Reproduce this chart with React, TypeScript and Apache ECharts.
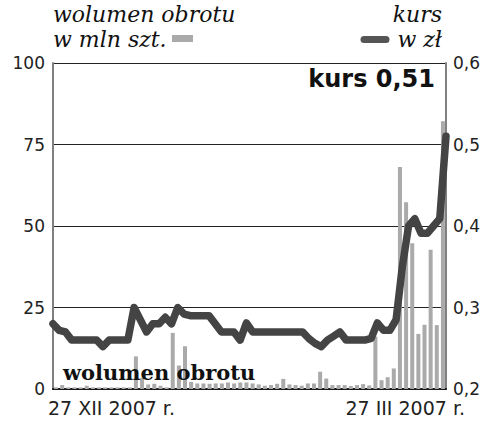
import React, { useEffect, useRef } from "react";
import * as echarts from "echarts";

const days: string[] = Array.from({ length: 64 }, (_, i) => `d${i + 1}`);

const volume: number[] = [
  0.5, 1.2, 0.5, 0.5, 0.5, 1.0, 0.5, 0.5, 0.5, 0.5, 0.5, 0.5, 0.5,
  10, 3.4, 1.4, 1.6, 1.0, 0.5, 17.2, 7.2, 13.1,
  2.2, 1.7, 1.7, 1.6, 1.7, 1.7, 2.0, 1.7, 2.0, 2.0, 1.7, 1.4,
  1.0, 1.2, 1.6, 3.1, 1.4, 1.2, 1.0, 1.7, 1.7,
  5.3, 3.2, 1.2, 1.2, 1.2, 0.9, 1.2, 1.5, 1.1,
  16.1, 2.7, 3.6, 6.3, 68.1, 57.3, 44.7, 16.9, 19.7, 42.7, 19.6, 82.1,
];

const price: number[] = [
  0.28, 0.272, 0.27, 0.26, 0.26, 0.26, 0.26, 0.26, 0.252, 0.26, 0.26, 0.26, 0.26,
  0.3, 0.285, 0.27, 0.28, 0.28, 0.288, 0.28, 0.3, 0.292,
  0.29, 0.29, 0.29, 0.29, 0.28, 0.27, 0.27, 0.27, 0.26, 0.281,
  0.27, 0.27, 0.27, 0.27, 0.27, 0.27, 0.27, 0.27, 0.27,
  0.262, 0.256, 0.252, 0.26, 0.265, 0.27, 0.26, 0.26, 0.26, 0.26, 0.262,
  0.281, 0.272, 0.272, 0.285, 0.35, 0.4, 0.409, 0.391, 0.391, 0.4, 0.409, 0.51,
];

const dateLabels: string[] = ["27 XII 2007 r.", "27 III 2007 r."];
const volumeTicks = { min: 0, max: 100, interval: 25 };
const priceTicks = { min: 0.2, max: 0.6, interval: 0.1 };

const legendVolume = ["wolumen obrotu", "w mln szt."];
const legendPrice = ["kurs", "w zł"];
const lastPriceLabel = "kurs 0,51";
const volumeCaption = "wolumen obrotu";

const sans = "'DejaVu Sans', sans-serif";
const serif = "'DejaVu Serif', serif";

export default function App() {
  const ref = useRef<HTMLDivElement>(null);
  useEffect(() => {
    if (!ref.current) return;
    const chart = echarts.init(ref.current, undefined, { renderer: "svg" });
    chart.setOption({
      animation: false,
      backgroundColor: "#ffffff",
      grid: { left: 53, right: 54, top: 63, bottom: 45 },
      xAxis: [
        {
          type: "category",
          data: days,
          boundaryGap: true,
          axisLine: { show: true, lineStyle: { color: "#1a1a1a", width: 2 } },
          axisTick: { show: false },
          axisLabel: { show: false },
          splitLine: { show: false },
        },
        {
          type: "category",
          data: days,
          boundaryGap: false,
          show: false,
        },
      ],
      yAxis: [
        {
          type: "value",
          position: "left",
          min: volumeTicks.min,
          max: volumeTicks.max,
          interval: volumeTicks.interval,
          axisLine: { show: true, lineStyle: { color: "#808080", width: 2 } },
          axisTick: { show: false },
          axisLabel: {
            margin: 8,
            color: "#222",
            fontFamily: sans,
            fontSize: 17,
          },
          splitLine: { show: true, lineStyle: { color: "#222", width: 1.2 } },
        },
        {
          type: "value",
          position: "right",
          min: priceTicks.min,
          max: priceTicks.max,
          interval: priceTicks.interval,
          axisLine: { show: true, lineStyle: { color: "#808080", width: 2 } },
          axisTick: { show: false },
          axisLabel: {
            margin: 7,
            color: "#222",
            fontFamily: sans,
            fontSize: 17,
            formatter: (v: number) => v.toFixed(1).replace(".", ","),
          },
          splitLine: { show: false },
        },
      ],
      series: [
        {
          type: "bar",
          xAxisIndex: 0,
          yAxisIndex: 0,
          data: volume,
          barWidth: 4,
          itemStyle: { color: "#aaaaaa" },
          z: 2,
        },
        {
          type: "line",
          xAxisIndex: 1,
          yAxisIndex: 1,
          data: price,
          symbol: "none",
          lineStyle: { color: "#444444", width: 7.5, join: "round", cap: "round" },
          z: 3,
        },
      ],
      graphic: [
        {
          type: "text",
          left: 53,
          top: 3,
          z: 100,
          style: { text: legendVolume[0], font: `italic 22px ${serif}`, fill: "#111" },
        },
        {
          type: "text",
          left: 53,
          top: 28,
          z: 100,
          style: { text: legendVolume[1], font: `italic 22px ${serif}`, fill: "#111" },
        },
        {
          type: "rect",
          shape: { x: 172, y: 35, width: 21, height: 7 },
          style: { fill: "#aaaaaa" },
          z: 100,
        },
        {
          type: "text",
          right: 58,
          top: 3,
          z: 100,
          style: { text: legendPrice[0], font: `italic 22px ${serif}`, fill: "#111" },
        },
        {
          type: "text",
          right: 58,
          top: 28,
          z: 100,
          style: { text: legendPrice[1], font: `italic 22px ${serif}`, fill: "#111" },
        },
        {
          type: "line",
          shape: { x1: 364, y1: 39.5, x2: 386, y2: 39.5 },
          style: { stroke: "#555555", lineWidth: 7, lineCap: "round" },
          z: 100,
        },
        {
          type: "text",
          right: 65,
          top: 67,
          z: 100,
          style: { text: lastPriceLabel, font: `bold 24px ${sans}`, fill: "#111" },
        },
        {
          type: "text",
          left: 63,
          top: 362,
          z: 100,
          style: { text: volumeCaption, font: `bold 21px ${serif}`, fill: "#111" },
        },
        {
          type: "text",
          left: 48,
          top: 398,
          z: 100,
          style: { text: dateLabels[0], font: `19px ${sans}`, fill: "#222" },
        },
        {
          type: "text",
          right: 35,
          top: 398,
          z: 100,
          style: { text: dateLabels[1], font: `19px ${sans}`, fill: "#222" },
        },
      ],
    });
    return () => chart.dispose();
  }, []);
  return (
    <div
      ref={ref}
      style={{ position: "absolute", left: 0, top: 0, width: 500, height: 434, background: "#fff" }}
    />
  );
}
